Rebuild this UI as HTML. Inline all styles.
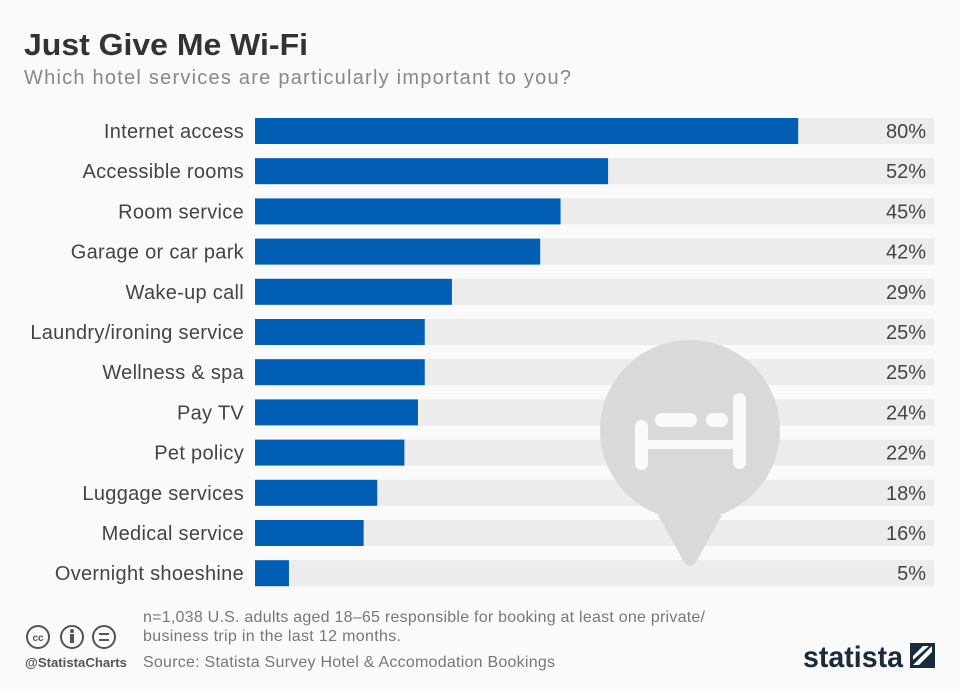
<!DOCTYPE html>
<html><head><meta charset="utf-8"><style>
body{margin:0;background:#fafafa;width:960px;height:684px;overflow:hidden;font-family:"Liberation Sans",sans-serif}
</style></head><body>
<svg id="c" width="960" height="684" xmlns="http://www.w3.org/2000/svg">
<rect width="960" height="684" fill="#fafafa"/>
<text x="24" y="55" font-size="31" font-weight="bold" fill="#333" textLength="284" lengthAdjust="spacingAndGlyphs">Just Give Me Wi-Fi</text>
<text x="24" y="84" font-size="20" fill="#888" textLength="547" lengthAdjust="spacing">Which hotel services are particularly important to you?</text>
<g id="tracks"></g>
<g>
<circle cx="690" cy="430" r="90" fill="#d9d9d9"/>
<path d="M658 515 L722 515 L696 562 Q690 570 684 562 Z" fill="#d9d9d9"/>
<rect x="635" y="420" width="13" height="50" rx="6.5" fill="#fafafa"/>
<rect x="733" y="393" width="13" height="76" rx="6.5" fill="#fafafa"/>
<rect x="635" y="440" width="111" height="9" fill="#fafafa"/>
<rect x="655" y="413" width="42" height="14" rx="7" fill="#fafafa"/>
<rect x="706" y="413" width="22" height="14" rx="7" fill="#fafafa"/>
</g>
<g id="bars"></g>
<g font-size="16" fill="#777">
<text x="143" y="622" textLength="562" lengthAdjust="spacing">n=1,038 U.S. adults aged 18–65 responsible for booking at least one private/</text>
<text x="143" y="641" textLength="258" lengthAdjust="spacing">business trip in the last 12 months.</text>
<text x="143" y="667" textLength="412" lengthAdjust="spacing">Source: Statista Survey Hotel &amp; Accomodation Bookings</text>
</g>
<g fill="none" stroke="#555" stroke-width="2">
<circle cx="38" cy="637" r="11"/><circle cx="72" cy="637" r="11"/><circle cx="104" cy="637" r="11"/>
<text x="38" y="641" font-size="10" font-weight="bold" fill="#555" stroke="none" text-anchor="middle">cc</text>
<circle cx="72" cy="631" r="2" fill="#555" stroke="none"/><rect x="70" y="634" width="4" height="9" fill="#555" stroke="none"/>
<line x1="99" y1="634" x2="109" y2="634"/><line x1="99" y1="640" x2="109" y2="640"/>
</g>
<text x="25" y="667" font-size="13" font-weight="bold" fill="#555" textLength="102" lengthAdjust="spacingAndGlyphs">@StatistaCharts</text>
<text x="803" y="667" font-size="30" font-weight="bold" fill="#1a2b3c" textLength="100" lengthAdjust="spacingAndGlyphs">statista</text>
<g><rect x="910" y="643" width="25" height="25" fill="#1a2b3c"/><path d="M913 665 L932 646 L932 652 L919 665 Z M913 656 L923 646 L929 646 L913 660 Z" fill="#fafafa"/></g>
</svg>
<script>
const categories=["Internet access","Accessible rooms","Room service","Garage or car park","Wake-up call","Laundry/ironing service","Wellness & spa","Pay TV","Pet policy","Luggage services","Medical service","Overnight shoeshine"];
const values=[80,52,45,42,29,25,25,24,22,18,16,5];
const labels=["80%","52%","45%","42%","29%","25%","25%","24%","22%","18%","16%","5%"];
const NS="http://www.w3.org/2000/svg";
const x0=255,x1=934,maxV=100,y0=131,step=40.2,bh=26;
const xs=v=>x0+(x1-x0)*v/maxV;
const ys=i=>y0+i*step;
const T=document.getElementById('tracks'),B=document.getElementById('bars');
function mk(t,a,p){const e=document.createElementNS(NS,t);for(const k in a)e.setAttribute(k,a[k]);p.appendChild(e);return e;}
categories.forEach((c,i)=>{
 const y=ys(i);
 const tr=mk('rect',{x:x0,y:y-bh/2,width:x1-x0,height:bh,fill:'#ececec'},T);
 
 
 const b=mk('rect',{x:x0,y:y-bh/2,width:xs(values[i])-x0,height:bh,fill:'#005eb5'},B);
 
 
 const l=mk('text',{x:244,y:y+7,'font-size':20,fill:'#444','text-anchor':'end','letter-spacing':0.3},B);l.textContent=c;
 
 
 const v=mk('text',{x:926,y:y+7,'font-size':20,fill:'#444','text-anchor':'end'},B);v.textContent=labels[i];
 
 
});
</script>
</body></html>
